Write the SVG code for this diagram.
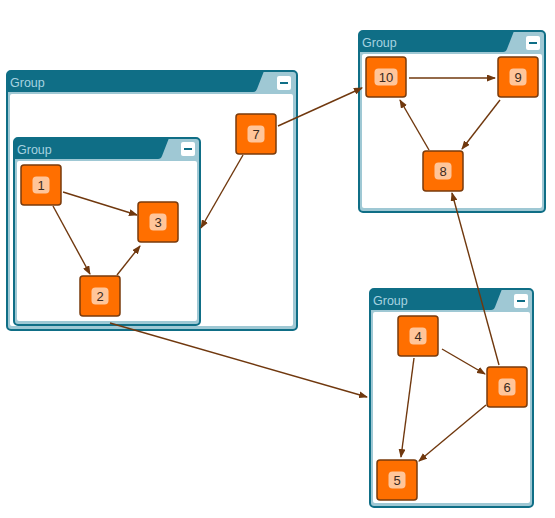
<svg xmlns="http://www.w3.org/2000/svg" width="555" height="518" viewBox="0 0 555 518">
<defs>
<style>
.frame{fill:#9fc8d4;stroke:#0f6e86;stroke-width:2}
.hdr{fill:#0f6e86}
.body{fill:#ffffff}
.ttl{font-family:"Liberation Sans",Arial,sans-serif;font-size:12.5px;fill:#a6d3e0}
.btn{fill:#ffffff}
.minus{stroke:#0f6e86;stroke-width:2}
.node{fill:#ff6f00;stroke:#7a3b0c;stroke-width:1.5}
.badge{fill:#ffc59a}
.lbl{font-family:"Liberation Sans",Arial,sans-serif;font-size:13px;fill:#3a2a20;text-anchor:middle}
.edge{stroke:#70380e;stroke-width:1.4;fill:none;marker-end:url(#ah)}
</style>
<marker id="ah" markerWidth="9" markerHeight="7" refX="8" refY="3.5" orient="auto" markerUnits="userSpaceOnUse">
<path d="M0,0 L9,3.5 L0,7 Z" fill="#70380e"/>
</marker>
</defs>

<g id="group1">
<rect class="frame" x="7" y="71" width="290" height="259" rx="4"/>
<path class="hdr" d="M7,75 Q7,71 11,71 H264 L257,89 Q256,92 253,92 H7 Z"/>
<rect class="body" x="10" y="94" width="283" height="232" rx="2"/>
<text class="ttl" x="10" y="87">Group</text>
<rect class="btn" x="277" y="76" width="14" height="14" rx="2"/>
<line class="minus" x1="280" y1="83" x2="288" y2="83"/>
</g>

<g id="group2">
<rect class="frame" x="14" y="138" width="186" height="187" rx="4"/>
<path class="hdr" d="M14,142 Q14,138 18,138 H169 L162,156 Q161,159 158,159 H14 Z"/>
<rect class="body" x="17" y="161" width="180" height="160" rx="2"/>
<text class="ttl" x="17" y="154">Group</text>
<rect class="btn" x="181" y="142" width="14" height="14" rx="2"/>
<line class="minus" x1="184" y1="149" x2="192" y2="149"/>
</g>

<g id="group3">
<rect class="frame" x="359" y="31" width="186" height="181" rx="4"/>
<path class="hdr" d="M359,35 Q359,31 363,31 H514 L507,49 Q506,52 503,52 H359 Z"/>
<rect class="body" x="362" y="54" width="180" height="154" rx="2"/>
<text class="ttl" x="362" y="47">Group</text>
<rect class="btn" x="526" y="36" width="14" height="14" rx="2"/>
<line class="minus" x1="529" y1="43" x2="537" y2="43"/>
</g>

<g id="group4">
<rect class="frame" x="370" y="289" width="163" height="218" rx="4"/>
<path class="hdr" d="M370,293 Q370,289 374,289 H502 L495,307 Q494,310 491,310 H370 Z"/>
<rect class="body" x="373" y="312" width="157" height="191" rx="2"/>
<text class="ttl" x="373" y="305">Group</text>
<rect class="btn" x="514" y="294" width="14" height="14" rx="2"/>
<line class="minus" x1="517" y1="301" x2="525" y2="301"/>
</g>

<g id="edges">
<line class="edge" x1="63" y1="192" x2="137" y2="215"/>
<line class="edge" x1="53" y1="206" x2="90" y2="274"/>
<line class="edge" x1="117" y1="275" x2="140" y2="246"/>
<line class="edge" x1="243" y1="155" x2="201" y2="228"/>
<line class="edge" x1="278" y1="126" x2="362" y2="88"/>
<line class="edge" x1="110" y1="323" x2="367" y2="397"/>
<line class="edge" x1="409" y1="78" x2="495" y2="78"/>
<line class="edge" x1="500" y1="100" x2="462" y2="149"/>
<line class="edge" x1="429" y1="150" x2="400" y2="100"/>
<line class="edge" x1="499" y1="365" x2="452" y2="193"/>
<line class="edge" x1="442" y1="349" x2="485" y2="374"/>
<line class="edge" x1="414" y1="358" x2="401" y2="457"/>
<line class="edge" x1="486" y1="405" x2="419" y2="461"/>
</g>

<g id="node1"><rect class="node" x="21" y="165" width="40" height="40" rx="3"/><rect class="badge" x="32.5" y="176.5" width="17" height="17" rx="4"/><text class="lbl" x="41" y="189.5">1</text></g>
<g id="node2"><rect class="node" x="80" y="276" width="40" height="40" rx="3"/><rect class="badge" x="91.5" y="287.5" width="17" height="17" rx="4"/><text class="lbl" x="100" y="300.5">2</text></g>
<g id="node3"><rect class="node" x="138" y="202" width="40" height="40" rx="3"/><rect class="badge" x="149.5" y="213.5" width="17" height="17" rx="4"/><text class="lbl" x="158" y="226.5">3</text></g>
<g id="node7"><rect class="node" x="236" y="114" width="40" height="40" rx="3"/><rect class="badge" x="247.5" y="125.5" width="17" height="17" rx="4"/><text class="lbl" x="256" y="138.5">7</text></g>
<g id="node10"><rect class="node" x="366" y="57" width="40" height="40" rx="3"/><rect class="badge" x="374.5" y="68.5" width="23" height="17" rx="4"/><text class="lbl" x="386" y="81.5">10</text></g>
<g id="node9"><rect class="node" x="498" y="57" width="40" height="40" rx="3"/><rect class="badge" x="509.5" y="68.5" width="17" height="17" rx="4"/><text class="lbl" x="518" y="81.5">9</text></g>
<g id="node8"><rect class="node" x="423" y="151" width="40" height="40" rx="3"/><rect class="badge" x="434.5" y="162.5" width="17" height="17" rx="4"/><text class="lbl" x="443" y="175.5">8</text></g>
<g id="node4"><rect class="node" x="398" y="316" width="40" height="40" rx="3"/><rect class="badge" x="409.5" y="327.5" width="17" height="17" rx="4"/><text class="lbl" x="418" y="340.5">4</text></g>
<g id="node6"><rect class="node" x="487" y="367" width="40" height="40" rx="3"/><rect class="badge" x="498.5" y="378.5" width="17" height="17" rx="4"/><text class="lbl" x="507" y="391.5">6</text></g>
<g id="node5"><rect class="node" x="377" y="460" width="40" height="40" rx="3"/><rect class="badge" x="388.5" y="471.5" width="17" height="17" rx="4"/><text class="lbl" x="397" y="484.5">5</text></g>
</svg>
